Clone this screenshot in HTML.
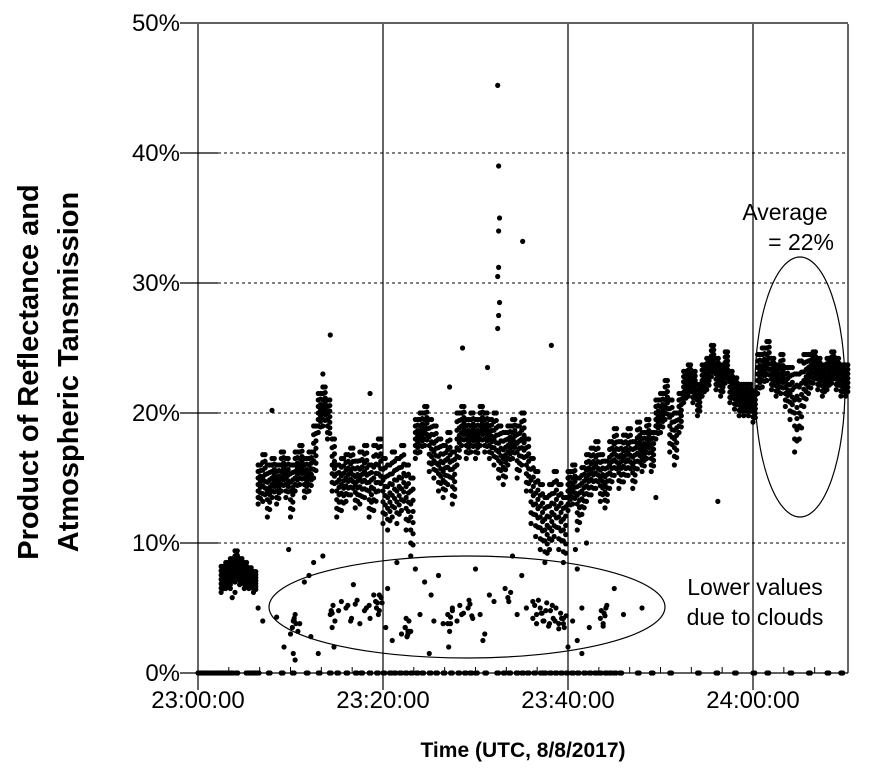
<!DOCTYPE html>
<html><head><meta charset="utf-8"><style>
html,body{margin:0;padding:0;background:#fff;}
svg{display:block;font-family:"Liberation Sans",Arial,sans-serif;}
</style></head><body>
<svg id="chart" width="873" height="777" viewBox="0 0 873 777">
<g id="grid"></g>
<g id="dots"></g>
<g id="axes"></g>
<text x="523" y="757" text-anchor="middle" font-size="21" font-weight="bold">Time (UTC, 8/8/2017)</text>
<g transform="translate(0,372) rotate(-90)">
<text x="0" y="38" text-anchor="middle" font-size="29" font-weight="bold">Product of Reflectance and</text>
<text x="0" y="78" text-anchor="middle" font-size="29" font-weight="bold">Atmospheric Tansmission</text>
</g>
<ellipse cx="467" cy="607" rx="198" ry="51" fill="none" stroke="#000" stroke-width="1.2"/>
<ellipse cx="800" cy="387" rx="45" ry="130" fill="none" stroke="#000" stroke-width="1.2"/>
<text x="785" y="220" text-anchor="middle" font-size="23">Average</text>
<text x="834" y="250" text-anchor="end" font-size="23">= 22%</text>
<text x="755" y="595" text-anchor="middle" font-size="23">Lower values</text>
<text x="755" y="625" text-anchor="middle" font-size="23">due to clouds</text>
</svg>
<script>
const yTicks=[0,10,20,30,40,50];
const yTickLabels=["0%","10%","20%","30%","40%","50%"];
const xTicks=[0,20,40,60];
const xTickLabels=["23:00:00","23:20:00","23:40:00","24:00:00"];
const bandTimes=[2.5,3,3.5,4,4.5,5,5.5,6,6.5,7,7.5,8,8.5,9,9.5,10,10.5,11,11.5,12,12.5,13,13.5,14,14.5,15,15.5,16,16.5,17,17.5,18,18.5,19,19.5,20,20.5,21,21.5,22,22.5,23,23.5,24,24.5,25,25.5,26,26.5,27,27.5,28,28.5,29,29.5,30,30.5,31,31.5,32,32.5,33,33.5,34,34.5,35,35.5,36,36.5,37,37.5,38,38.5,39,39.5,40,40.5,41,41.5,42,42.5,43,43.5,44,44.5,45,45.5,46,46.5,47,47.5,48,48.5,49,49.5,50,50.5,51,51.5,52,52.5,53,53.5,54,54.5,55,55.5,56,56.5,57,57.5,58,58.5,59,59.5,60,60.5,61,61.5,62,62.5,63,63.5,64,64.5,65,65.5,66,66.5,67,67.5,68,68.5,69,69.5,70];
const bandValues=[7.2,7.5,7.8,8.2,7.8,7.5,7.3,7.0,14.5,15,14,15,14.5,15.5,15,14,15.5,16,15,15.5,17,20,20.5,19.5,16,14,14.5,15,15.5,14.5,15,15.5,14,15,16,14,13.5,14.5,14,15,13.5,12,18,18.5,19,17.5,17,16,15.5,16.5,15,18,19,18,18.5,18,19,18.5,18,18,17,16.5,17.5,18,17,18,16,14,13,12,11,12,13,12,11,14,14.5,13,14,15,15.5,16,15,14.5,16,17,16,16.5,17,16,17.5,17,18,17,19.5,20,21,19,18,20,22,22.5,22,21,22.5,23,24,23,22.5,23.5,22,21.5,21,21,21,20.5,23,23.5,24,23,22.5,23,22,21.5,20,21,22.5,23,23.5,23,22.5,23,23.5,23,22.5,22.5];
const bandSpread=[1,1,1,1.2,1,1,0.8,0.8,1.5,1.8,2,1.5,1.5,1.5,1.5,2,1.5,1.5,1.5,1.5,2,1.5,1.5,1.5,2,2,2,1.8,1.8,1.8,2,2,2,2.5,2,2.5,2.5,2.5,2.5,2.5,2.5,3,1.5,1.5,1.5,2,2,2,2,2,2,2,1.5,1.5,1.5,1.5,1.5,1.5,1.5,2,2,2,1.5,1.5,2,2,2,2.5,2.5,2.5,2.5,2.5,2.5,2.5,2.5,1.5,1.5,2,1.8,1.8,1.8,1.8,1.8,1.8,1.8,1.8,1.8,1.8,1.8,1.8,1.8,1.5,1.5,1.5,1.5,1.5,1.5,2,2,1.5,1.2,1.2,1.2,1.2,1.2,1.2,1.2,1.2,1.2,1.2,1.2,1.2,1.2,1.2,1.2,1.2,1.5,1.5,1.5,1.2,1.2,1.5,1.5,2,3,3,2,1.5,1.2,1.2,1.2,1.2,1.2,1.2,1.2,1.2,1.2];
const lowTimes=[3.5,3.7,4.0,6.5,7,8.5,9.3,10,10.3,10.5,10.8,11,12.2,13,14.4,14.6,14.8,15.5,16,16.5,17,17.5,18,18.5,19,19.3,19.5,19.8,20.3,21,22,22.4,22.6,22.8,23,24,25,25.5,26.5,27,27.2,27.5,28,28.5,29.2,29.4,29.7,30.5,31,32,33.6,33.8,34.5,35.5,36.2,36.6,37,37.3,37.6,38,38.3,38.6,39,39.3,39.6,40,40.5,41.5,42.3,43.5,43.8,44.1,45,46,48,10.4,14.5,19.4,22.7,27.3,37.1,39.5,43.9,20.5,24.5,31.5,35,41,12,16.8,
10.2,10.4,10.6,10.3,10.5,14.3,14.5,14.7,15.2,16.2,16.6,17.2,18.2,18.6,19.2,19.6,19.6,19.9,22.4,22.6,22.8,22.5,22.7,25.2,27,27.3,27.5,27.1,28.3,28.7,29.3,29.6,30.8,33.2,33.5,36.2,36.4,36.6,36.8,37.2,37.4,37.7,37.9,38.1,38.4,38.7,39,39.2,39.5,39.8,41,41.5,43.6,43.8,44,44.2,12.5,13.5,11.5,9.8,21.5,23.5,26,30,34,40.8,42];
const lowValues=[6.5,5.8,6.2,5,4,4.3,2,3,4,4.5,3.2,3.8,2.8,1.5,4.8,5.2,4,5.5,5,4,5.3,3.8,4.8,5.2,6,5,4.5,5.8,3.5,2.5,3,3.5,2.8,4,3.2,4.5,1.5,4,3.8,4.5,3.2,5,4,4.5,5,5.3,4.2,4.5,3,5.5,5.5,6.2,4.5,5,5.5,4.5,5,4,4.8,3.8,5.2,4,3.8,4.2,3.5,2,4,5,3.5,4.2,3.8,5,6.5,4.5,5,4.2,4.6,5.4,3.2,3.8,4.6,4.2,4.6,6.5,7,6,7.5,8,7.5,6.8,
3.5,4,3.8,1.5,1,4.5,3.5,2,4.8,5.2,4.2,5.6,5,4.2,5.5,6,4.8,5.4,3.5,2.8,3.2,4.2,3,6,3.8,4.3,4.8,2,5.2,4.6,5.6,4.4,2.5,6.5,5.8,4.2,5.2,3.8,5.6,4.6,4,5.4,3.6,4.8,4.2,5,3.4,4.6,3.8,4.4,2.5,1.5,4.8,3.6,4.4,5.2,8.5,9,7,9.5,8.5,8,7.5,8,9,9.5,10];
const zeroTimes=[0,0.4,0.8,1.2,1.6,2,2.4,2.8,3.2,3.6,4.1,5.2,5.6,6,6.4,7.6,9,10.2,11.7,13,14.2,15,16,17,17.6,18.5,19.3,20,20.7,21.2,21.8,22.4,23,23.6,24.2,25,25.7,26.5,27.3,28.1,28.8,29.4,30,31,32.3,33,33.6,34.4,35,35.6,36.3,37,37.4,38,38.6,39.2,39.8,40.4,41,41.7,42.3,42.9,43.4,44,44.5,45,45.6,47.5,49,51,54,56,58,60,61.5,64,66,68,69.5];
const outTimes=[32.4,32.5,32.6,32.5,32.5,32.4,32.6,32.5,32.4,35.1,38.2,14.3,28.6,27.2,31.3,13.5,8.0,18.6,49.5,56.2];
const outValues=[45.2,39,35,34,31.2,30.5,28.5,27.5,26.5,33.2,25.2,26,25,22,23.5,23,20.2,21.5,13.5,13.2];

const X0=198,PXM=9.25,Y0=673,PXP=13;
const xs=t=>X0+t*PXM, ys=v=>Y0-v*PXP;
const NS="http://www.w3.org/2000/svg";
function mk(tag,attrs,parent){const e=document.createElementNS(NS,tag);for(const k in attrs)e.setAttribute(k,attrs[k]);parent.appendChild(e);return e;}
const grid=document.getElementById('grid'),axes=document.getElementById('axes'),dots=document.getElementById('dots');
yTicks.forEach((v,i)=>{
  const y=ys(v);
  if(v>0&&v<50){
    const g=mk('line',{x1:218,x2:848,y1:y,y2:y,stroke:'#000','stroke-width':1,'stroke-dasharray':'3,3'},grid);
    
    
  }
  const t=mk('line',{x1:180,x2:(v==50||v==0)?848:218,y1:y,y2:y,stroke:'#000','stroke-width':1.3},axes);
  
  
  const l=mk('text',{x:180,y:y+8,'text-anchor':'end','font-size':24},axes);
  l.textContent=yTickLabels[i];
  
  
});
xTicks.forEach((m,i)=>{
  const x=xs(m);
  const ln=mk('line',{x1:x,x2:x,y1:24,y2:690,stroke:'#000','stroke-width':1.2},axes);
  
  
  const l=mk('text',{x:x,y:708,'text-anchor':'middle','font-size':24},axes);
  l.textContent=xTickLabels[i];
  
  
});
const rb=mk('line',{x1:848,x2:848,y1:24,y2:673,stroke:'#000','stroke-width':1.2},axes);


for(let m=10/3;m<70;m+=10/3){
  if(Math.abs(m/20-Math.round(m/20))<0.01)continue;
  const x=xs(m);
  const mt=mk('line',{x1:x,x2:x,y1:667,y2:673,stroke:'#000','stroke-width':1},axes);
  
  
}
function dot(t,v,name){
  const c=mk('circle',{cx:xs(t),cy:ys(v),r:2.6,fill:'#000'},dots);
  
  
}
bandTimes.forEach((t,i)=>{
  const c=bandValues[i],s=bandSpread[i];
  for(let k=-3;k<=3;k++){dot(t,c+k*s/3,'band-point');dot(t+0.25,c+(k+0.5)*s/3.5,'band-point');}
});
lowTimes.forEach((t,i)=>dot(t,lowValues[i],'cloud-point'));
zeroTimes.forEach(t=>{dot(t,0,'zero-point');dot(t+0.2,0,'zero-point');});
outTimes.forEach((t,i)=>dot(t,outValues[i],'outlier-point'));
</script>
</body></html>
